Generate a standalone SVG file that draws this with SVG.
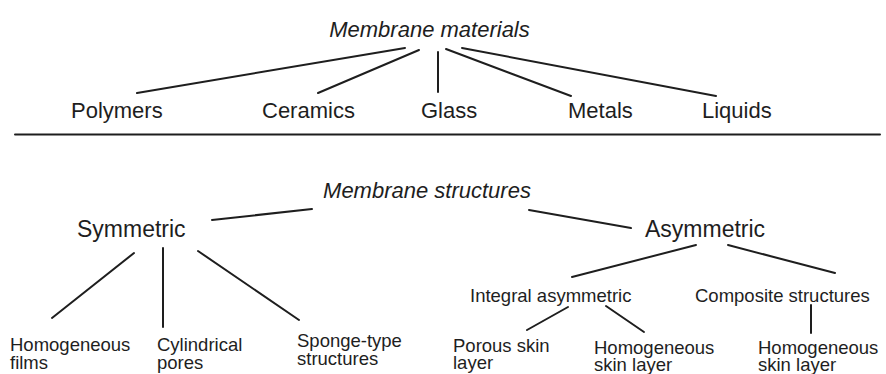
<svg xmlns="http://www.w3.org/2000/svg" width="886" height="374" viewBox="0 0 886 374">
<style>
text{font-family:"Liberation Sans",Arial,Helvetica,sans-serif;fill:#1e1e1e}
.t{font-size:22px;font-style:italic}
.l{font-size:22px}
.m{font-size:23px}
.s{font-size:18.5px}
.c line{stroke:#1e1e1e;stroke-width:2;stroke-linecap:round}
</style>
<rect width="886" height="374" fill="#fff"/>
<g class="c" id="connectors">
<line x1="405" y1="48" x2="137" y2="93"/>
<line x1="419" y1="50" x2="318" y2="93"/>
<line x1="438" y1="52" x2="438" y2="92"/>
<line x1="446" y1="49" x2="571" y2="96"/>
<line x1="462" y1="48" x2="716" y2="96"/>
<line x1="15" y1="134.5" x2="880" y2="134.5"/>
<line x1="312" y1="209" x2="212" y2="220"/>
<line x1="529" y1="210" x2="631" y2="228"/>
<line x1="134" y1="253" x2="52" y2="318"/>
<line x1="163" y1="248" x2="163" y2="327"/>
<line x1="198" y1="251" x2="299" y2="320"/>
<line x1="696" y1="245" x2="572" y2="277"/>
<line x1="728" y1="245" x2="835" y2="273"/>
<line x1="568" y1="307" x2="527" y2="330"/>
<line x1="606" y1="306" x2="644" y2="332"/>
<line x1="811" y1="305" x2="811" y2="333"/>
</g>
<g id="membrane-materials"><text class="t" x="429.5" y="37" text-anchor="middle">Membrane materials</text></g>
<g id="polymers"><text class="l" x="71" y="118">Polymers</text></g>
<g id="ceramics"><text class="l" x="262" y="118">Ceramics</text></g>
<g id="glass"><text class="l" x="421" y="118">Glass</text></g>
<g id="metals"><text class="l" x="568" y="118">Metals</text></g>
<g id="liquids"><text class="l" x="702" y="118">Liquids</text></g>
<g id="membrane-structures"><text class="t" x="427" y="198" text-anchor="middle">Membrane structures</text></g>
<g id="symmetric"><text class="m" x="77" y="237">Symmetric</text></g>
<g id="asymmetric"><text class="m" x="645" y="237">Asymmetric</text></g>
<g id="homogeneous-films"><text class="s" x="10" y="351">Homogeneous<tspan x="10" y="369">films</tspan></text></g>
<g id="cylindrical-pores"><text class="s" x="157" y="351">Cylindrical<tspan x="157" y="369">pores</tspan></text></g>
<g id="sponge-type"><text class="s" x="297" y="347">Sponge-type<tspan x="297" y="365">structures</tspan></text></g>
<g id="integral-asymmetric"><text class="s" x="470" y="302">Integral asymmetric</text></g>
<g id="composite-structures"><text class="s" x="695" y="302">Composite structures</text></g>
<g id="porous-skin-layer"><text class="s" x="453" y="352">Porous skin<tspan x="453" y="369">layer</tspan></text></g>
<g id="homogeneous-skin-layer-1"><text class="s" x="594" y="354">Homogeneous<tspan x="594" y="371">skin layer</tspan></text></g>
<g id="homogeneous-skin-layer-2"><text class="s" x="758" y="354">Homogeneous<tspan x="758" y="371">skin layer</tspan></text></g>
</svg>
